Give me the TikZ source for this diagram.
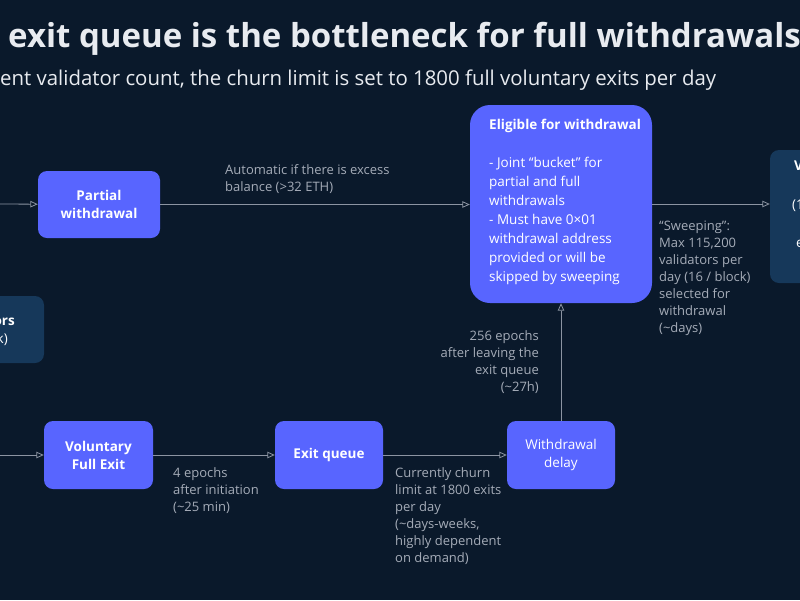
\documentclass[tikz,border=0pt]{standalone}
\usepackage{fontspec}
\setmainfont{Open Sans}
\usetikzlibrary{arrows.meta}

\definecolor{bgnavy}{RGB}{10,25,43}
\definecolor{boxblue}{RGB}{88,101,255}
\definecolor{boxdark}{RGB}{22,56,90}
\definecolor{notegray}{RGB}{165,172,184}
\definecolor{linegray}{RGB}{140,148,162}
\definecolor{headwhite}{RGB}{232,235,240}

\begin{document}
\begin{tikzpicture}[x=1pt, y=-1pt,
    stage/.style={fill=boxblue, rounded corners=9pt, text=white, align=center,
        inner sep=0pt, font=\fontsize{13.5}{18}\selectfont\bfseries},
    offstage/.style={fill=boxdark, rounded corners=9pt, inner sep=0pt},
    note/.style={text=notegray, align=left, inner sep=0pt,
        font=\fontsize{13}{17}\selectfont},
    flow/.style={linegray, line width=0.8pt,
        -{Triangle[open, length=7.5pt, width=6.5pt]}}]

    % Background and frame
    \fill[bgnavy] (0,0) rectangle (800,600);
    \useasboundingbox (0,0) rectangle (800,600);
    \clip (0,0) rectangle (800,600);

    % Heading
    \node[anchor=base west, inner sep=0pt, text=headwhite,
        font=\fontsize{33}{38}\selectfont\bfseries] (title) at (8,47)
        {exit queue is the bottleneck for full withdrawals};
    \node[anchor=base west, inner sep=0pt, text=headwhite,
        font=\fontsize{20.4}{24}\selectfont] (subtitle) at (0,85)
        {ent validator count, the churn limit is set to 1800 full voluntary exits per day};

    % Boxes cut by the frame
    \node[offstage, minimum width=100pt, minimum height=67pt] (leftbox) at (-6,329.5) {};
    \node[anchor=base east, inner sep=0pt, text=white,
        font=\fontsize{13.5}{18}\selectfont\bfseries] (lefttop) at (15,325) {ors};
    \node[anchor=base east, inner sep=0pt, text=white,
        font=\fontsize{13.5}{18}\selectfont] (leftbot) at (8,343) {k)};

    \node[offstage, minimum width=100pt, minimum height=133pt] (rightbox) at (820,216.5) {};
    \node[anchor=base west, inner sep=0pt, text=white,
        font=\fontsize{13.5}{18}\selectfont\bfseries] (righttop) at (794,170) {V};
    \node[anchor=base west, inner sep=0pt, text=white,
        font=\fontsize{13.5}{18}\selectfont] (rightmid) at (792,209) {(1};
    \node[anchor=base west, inner sep=0pt, text=white,
        font=\fontsize{13.5}{18}\selectfont] (rightbot) at (796,247) {e};

    % Stages
    \node[stage, minimum width=122pt, minimum height=67pt] (partial) at (99,204.5)
        {Partial\\withdrawal};
    \node[stage, minimum width=109pt, minimum height=68pt] (voluntary) at (98.5,455)
        {Voluntary\\Full Exit};
    \node[stage, minimum width=108pt, minimum height=68pt] (exitq) at (329,455)
        {Exit queue};
    \node[stage, minimum width=108pt, minimum height=68pt, font=\fontsize{13.5}{18}\selectfont]
        (wdelay) at (561,455) {Withdrawal\\delay};
    \node[stage, rounded corners=20pt, minimum width=182pt, minimum height=198pt]
        (eligible) at (561,204) {};
    \node[anchor=north west, inner sep=0pt, text=white, align=left,
        font=\fontsize{13.5}{19}\selectfont] (eligtext) at (489,119)
        {\textbf{Eligible for withdrawal}\\[19pt]
         - Joint “bucket” for\\partial and full\\withdrawals\\
         - Must have 0×01\\withdrawal address\\provided or will be\\skipped by sweeping};

    % Loose ends
    \coordinate (inpartial) at (0,204);
    \coordinate (involuntary) at (0,455);

    % Connectors
    \draw[flow] (inpartial) -- (partial);
    \draw[flow] (partial) -- (eligible.west |- partial);
    \draw[flow] (eligible) -- (rightbox.west |- eligible);
    \draw[flow] (involuntary) -- (voluntary);
    \draw[flow] (voluntary) -- (exitq);
    \draw[flow] (exitq) -- (wdelay);
    \draw[flow] (wdelay) -- (eligible);

    % Notes
    \node[note, anchor=north west] (automatic) at (225,164)
        {Automatic if there is excess\\balance (>32 ETH)};
    \node[note, anchor=north west] (sweeping) at (659,221)
        {“Sweeping”:\\Max 115,200\\validators per\\day (16 / block)\\selected for\\withdrawal\\(\textasciitilde days)};
    \node[note, anchor=north east, align=right] (epochs) at (539,330)
        {256 epochs\\after leaving the\\exit queue\\(\textasciitilde 27h)};
    \node[note, anchor=north west] (initiation) at (173,467)
        {4 epochs\\after initiation\\(\textasciitilde 25 min)};
    \node[note, anchor=north west] (churn) at (395,467)
        {Currently churn\\limit at 1800 exits\\per day\\(\textasciitilde days-weeks,\\highly dependent\\on demand)};
\end{tikzpicture}
\end{document}
